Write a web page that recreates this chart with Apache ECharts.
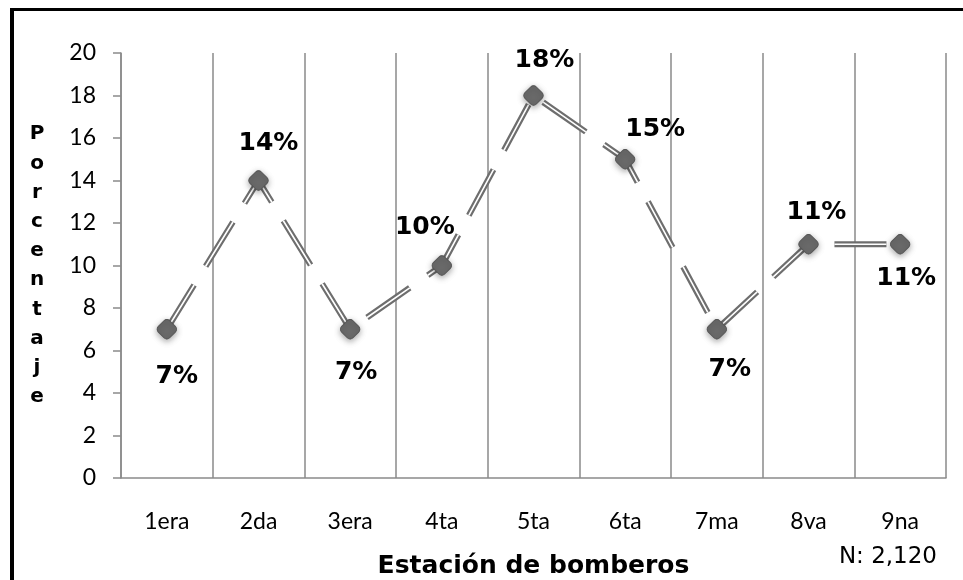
<!DOCTYPE html>
<html>
<head>
<meta charset="utf-8">
<script src="https://cdn.jsdelivr.net/npm/echarts@6/dist/echarts.min.js"></script>
<style>
html,body{margin:0;padding:0;background:#fff;}
#c{width:963px;height:580px;}
</style>
</head>
<body>
<div id="c"></div>
<script>
var categories = ['1era','2da','3era','4ta','5ta','6ta','7ma','8va','9na'];
var values = [7, 14, 7, 10, 18, 15, 7, 11, 11];
var valueLabels = ['7%','14%','7%','10%','18%','15%','7%','11%','11%'];
var yTicks = {min: 0, max: 20, interval: 2};
var labelOffsets = [[10,47],[10,-37],[6,43],[-17,-38],[11,-35],[30,-30],[13,40],[8,-32],[6,34]];

var chart = echarts.init(document.getElementById('c'), null, {renderer:'canvas'});
var gray = '#8a8a8a';
var lineGray = '#6e6e6e';

var markerData = values.map(function(v, i){
  return {
    value: v,
    label: {
      show: true,
      position: 'inside',
      offset: labelOffsets[i],
      formatter: valueLabels[i],
      fontFamily: 'DejaVu Sans',
      fontWeight: 'bold',
      fontSize: 25,
      color: '#000'
    }
  };
});

var option = {
  backgroundColor: '#fff',
  animation: false,
  grid: {left: 121, right: 17, top: 53, bottom: 102, containLabel: false, outerBoundsMode: 'none'},
  xAxis: {
    type: 'category',
    data: categories,
    boundaryGap: true,
    axisLine: {show: true, lineStyle: {color: gray, width: 1.5}},
    axisTick: {show: false},
    axisLabel: {fontFamily: 'Lato', fontSize: 23, color: '#000', margin: 32},
    splitLine: {show: true, lineStyle: {color: gray, width: 1.5}},
    name: 'Estación de bomberos',
    nameLocation: 'middle',
    nameGap: 76,
    nameMoveOverlap: false,
    nameTextStyle: {fontFamily: 'DejaVu Sans', fontWeight: 'bold', fontSize: 25, color: '#000'}
  },
  yAxis: {
    type: 'value',
    min: yTicks.min, max: yTicks.max, interval: yTicks.interval,
    axisLine: {show: true, lineStyle: {color: gray, width: 1.5}},
    axisTick: {show: true, length: 8, lineStyle: {color: gray, width: 1.5}},
    axisLabel: {fontFamily: 'Lato', fontSize: 23, color: '#000', margin: 25},
    splitLine: {show: false},
    name: 'Porcentaje'.split('').join('\n'),
    nameLocation: 'middle',
    nameRotate: 0,
    nameGap: 84,
    nameMoveOverlap: false,
    nameTextStyle: {fontFamily: 'DejaVu Sans', fontWeight: 'bold', fontSize: 20, color: '#000', lineHeight: 29.2, align: 'center', verticalAlign: 'middle'}
  },
  series: [
    {
      type: 'line', data: values, z: 2, symbol: 'none', silent: true,
      lineStyle: {color: lineGray, width: 6, type: [52, 22], cap: 'butt'}
    },
    {
      type: 'line', data: values, z: 3, symbol: 'none', silent: true,
      lineStyle: {color: '#fff', width: 1.6, type: [52, 22], cap: 'butt'}
    },
    {
      type: 'line', data: markerData, z: 4,
      symbol: 'roundRect', symbolSize: 16, symbolRotate: 45,
      showAllSymbol: true,
      lineStyle: {opacity: 0, width: 0},
      itemStyle: {color: '#6a6a6a', borderColor: '#555', borderWidth: 1, shadowColor: 'rgba(0,0,0,0.35)', shadowBlur: 6, shadowOffsetY: 2}
    }
  ],
  graphic: [
    {type: 'rect', shape: {x: 10, y: 8, width: 4, height: 572}, style: {fill: '#000'}, silent: true},
    {type: 'rect', shape: {x: 10, y: 8, width: 953, height: 3}, style: {fill: '#000'}, silent: true},
    {type: 'text', right: 26, top: 546, style: {text: 'N: 2,120', fontFamily: 'DejaVu Sans', fontSize: 23, fill: '#000'}}
  ]
};
chart.setOption(option);
</script>
</body>
</html>
